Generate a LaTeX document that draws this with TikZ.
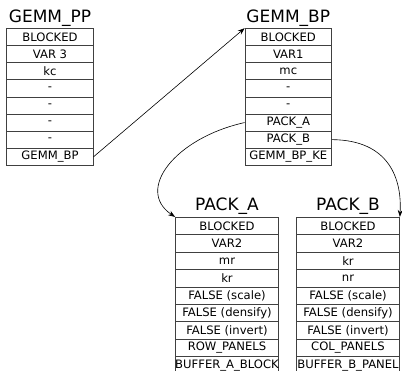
\documentclass[tikz,border=0pt]{standalone}
\usepackage{fontspec}
\setmainfont{DejaVu Sans}
\usetikzlibrary{arrows.meta}
\tikzset{
  cellA/.style={draw=black!75, line width=0.7pt, minimum width=86.5pt, minimum height=17.1pt, inner sep=0pt, font=\fontsize{11.6}{12}\selectfont},
  cellB/.style={draw=black!75, line width=0.7pt, minimum width=103pt, minimum height=17.4pt, inner sep=0pt, font=\fontsize{11.6}{12}\selectfont},
  ttl/.style={anchor=base, inner sep=0pt, font=\fontsize{17}{20}\selectfont},
  conn/.style={line width=0.6pt, -{Stealth[length=7pt,width=5pt]}}
}
\begin{document}
\begin{tikzpicture}[x=1pt,y=-1pt]
\useasboundingbox (0,0) rectangle (402,371);
\clip (0,0) rectangle (402,371);
% GEMM_PP
\node[ttl] (tpp) at (50,23) {GEMM\_PP};
\foreach \t [count=\i] in {BLOCKED,VAR 3,kc,-,-,-,-,GEMM\_BP}
  \node[cellA] (pp\i) at (50,{28.5+(\i-0.5)*17.1}) {\makebox[0pt]{\t}};
% GEMM_BP
\node[ttl] (tbp) at (288.3,23) {GEMM\_BP};
\foreach \t [count=\i] in {BLOCKED,VAR1,mc,-,-,PACK\_A,PACK\_B,GEMM\_BP\_KE}
  \node[cellA] (bp\i) at (288.3,{28.5+(\i-0.5)*17.1}) {\makebox[0pt]{\t}};
% PACK_A
\node[ttl] (tpa) at (227,211) {PACK\_A};
\foreach \t [count=\i] in {BLOCKED,VAR2,mr,kr,FALSE (scale),FALSE (densify),FALSE (invert),ROW\_PANELS,BUFFER\_A\_BLOCK}
  \node[cellB] (pa\i) at (227,{217.3+(\i-0.5)*17.4}) {\makebox[0pt]{\t}};
% PACK_B
\node[ttl] (tpb) at (348,211) {PACK\_B};
\foreach \t [count=\i] in {BLOCKED,VAR2,kr,nr,FALSE (scale),FALSE (densify),FALSE (invert),COL\_PANELS,BUFFER\_B\_PANEL}
  \node[cellB] (pb\i) at (348,{217.3+(\i-0.5)*17.4}) {\makebox[0pt]{\t}};
% connectors
\draw[conn] (pp8.east) -- (bp1.north west);
\draw[conn] (bp6.west) .. controls (175,138) and (135,190) .. (pa1.north west);
\draw[conn] (bp7.east) .. controls (390,140) and (402,180) .. (pb1.north east);
\end{tikzpicture}
\end{document}
